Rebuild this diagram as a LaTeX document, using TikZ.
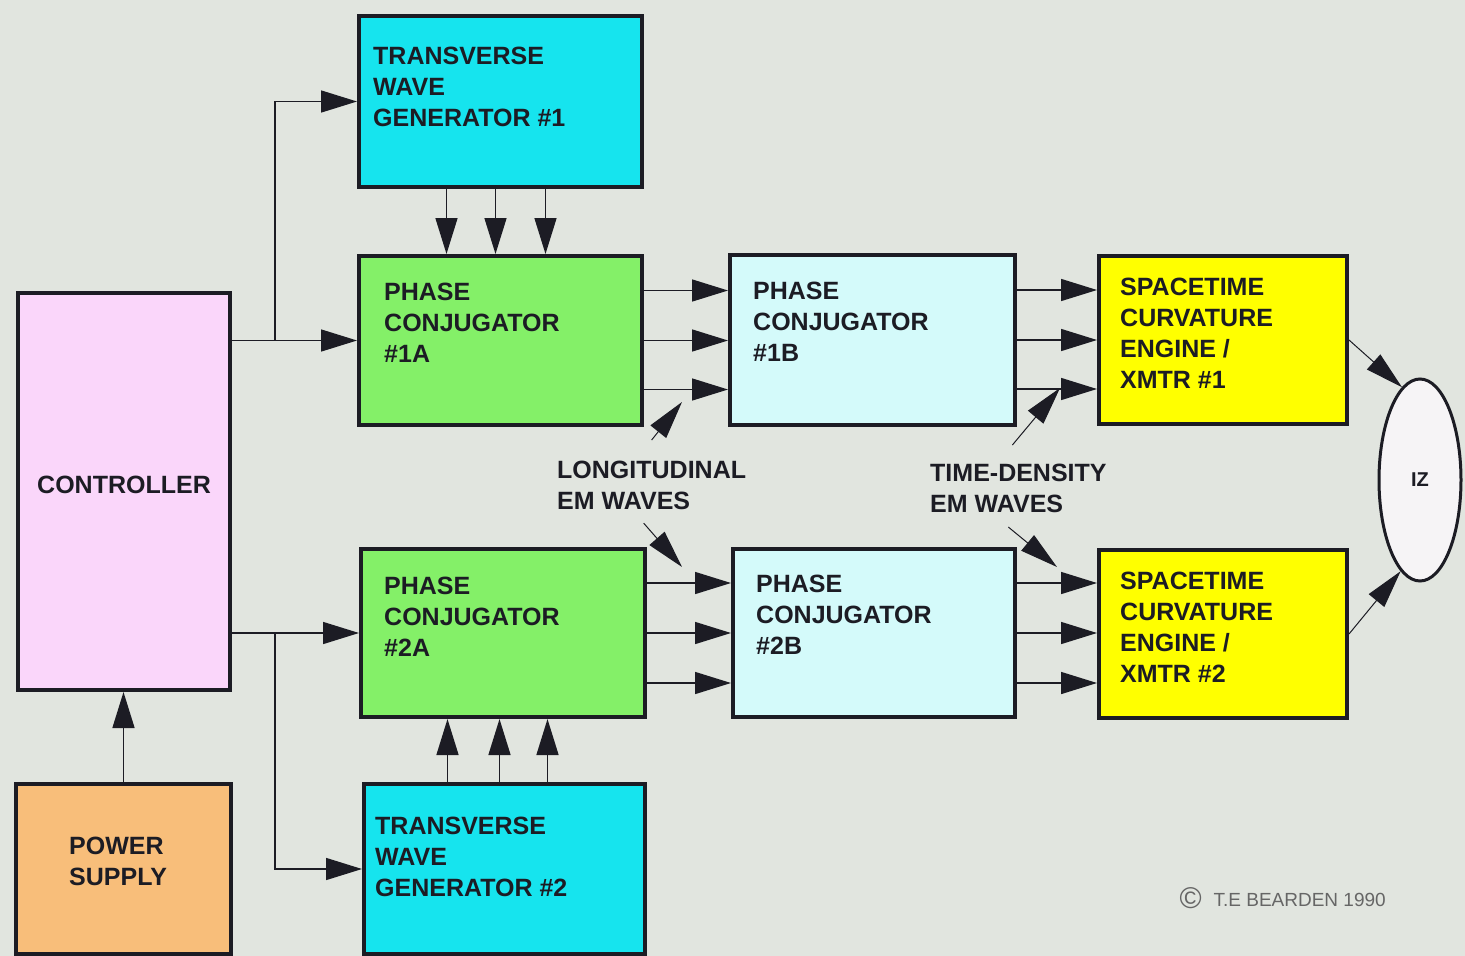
\documentclass[tikz,border=0pt]{standalone}
\usepackage{fontspec}
\setmainfont{Liberation Sans}
\usetikzlibrary{arrows.meta,shapes.geometric}

\definecolor{paper}{RGB}{225,229,223}
\definecolor{inkdark}{RGB}{28,28,36}
\definecolor{genblue}{RGB}{22,228,238}
\definecolor{conjgreen}{RGB}{132,240,104}
\definecolor{conjpale}{RGB}{212,250,250}
\definecolor{engyellow}{RGB}{255,255,0}
\definecolor{ctrlpink}{RGB}{250,214,250}
\definecolor{psorange}{RGB}{248,190,122}
\definecolor{izwhite}{RGB}{246,244,246}

\newcommand{\boxfont}{\fontsize{25}{31}\selectfont\bfseries}

\begin{document}
\begin{tikzpicture}[
    x=1pt, y=-1pt,
    box/.style={rectangle, draw=inkdark, line width=4pt, anchor=north west, text=inkdark, font=\boxfont},
    tag/.style={anchor=north west, align=left, inner sep=0pt, text=inkdark, font=\boxfont},
    arr/.style={-{Triangle[length=36pt,width=22pt]}, line width=1.5pt, draw=inkdark},
    feed/.style={-{Triangle[length=38pt,width=20pt]}, line width=1pt, draw=inkdark}
]
    \clip (0,0) rectangle (1465,956);
    \fill[paper] (0,0) rectangle (1465,956);

    \node[box, fill=ctrlpink, minimum width=212pt, minimum height=397pt] (ctrl) at (16,291) {\raisebox{14pt}{CONTROLLER}};
    \node[box, fill=psorange, minimum width=215pt, minimum height=170pt,
        label={[tag, xshift=55pt, yshift=-55pt]north west:POWER\\SUPPLY}] (power) at (14,782) {};
    \node[box, fill=genblue, minimum width=283pt, minimum height=171pt,
        label={[tag, xshift=16pt, yshift=-33pt]north west:TRANSVERSE\\WAVE\\GENERATOR \#1}] (twg1) at (357,14) {};
    \node[box, fill=conjgreen, minimum width=283pt, minimum height=169pt,
        label={[tag, xshift=27pt, yshift=-29pt]north west:PHASE\\CONJUGATOR\\\#1A}] (pc1a) at (357,254) {};
    \node[box, fill=conjgreen, minimum width=284pt, minimum height=168pt,
        label={[tag, xshift=25pt, yshift=-30pt]north west:PHASE\\CONJUGATOR\\\#2A}] (pc2a) at (359,547) {};
    \node[box, fill=genblue, minimum width=281pt, minimum height=170pt,
        label={[tag, xshift=13pt, yshift=-35pt]north west:TRANSVERSE\\WAVE\\GENERATOR \#2}] (twg2) at (362,782) {};
    \node[box, fill=conjpale, minimum width=285pt, minimum height=170pt,
        label={[tag, xshift=25pt, yshift=-29pt]north west:PHASE\\CONJUGATOR\\\#1B}] (pc1b) at (728,253) {};
    \node[box, fill=conjpale, minimum width=282pt, minimum height=168pt,
        label={[tag, xshift=25pt, yshift=-28pt]north west:PHASE\\CONJUGATOR\\\#2B}] (pc2b) at (731,547) {};
    \node[box, fill=engyellow, minimum width=248pt, minimum height=168pt,
        label={[tag, xshift=23pt, yshift=-24pt]north west:SPACETIME\\CURVATURE\\ENGINE /\\XMTR \#1}] (sce1) at (1097,254) {};
    \node[box, fill=engyellow, minimum width=248pt, minimum height=168pt,
        label={[tag, xshift=23pt, yshift=-24pt]north west:SPACETIME\\CURVATURE\\ENGINE /\\XMTR \#2}] (sce2) at (1097,548) {};
    \node[ellipse, draw=inkdark, line width=3pt, fill=izwhite, minimum width=82pt, minimum height=202pt,
        text=inkdark, font=\fontsize{20}{20}\selectfont\bfseries] (iz) at (1420,480) {IZ};

    \node[tag] (lw) at (557,461) {LONGITUDINAL\\EM WAVES};
    \node[tag] (td) at (930,464) {TIME-DENSITY\\EM WAVES};
    \node[anchor=west, text=black!60, font=\fontsize{19}{19}\selectfont] (copy) at (1176,898)
        {\raisebox{-2pt}{\fontsize{30}{30}\selectfont\textcopyright}\hspace{12pt}T.E BEARDEN 1990};

    \coordinate (lwtip1) at (682,402);
    \coordinate (lwtip2) at (682,567);
    \coordinate (tdtip1) at (1060,388);
    \coordinate (tdtip2) at (1057,567);

    \draw[arr] (ctrl.east |- pc1a.west) -- (pc1a.west);
    \draw[arr] (ctrl.east |- pc1a.west) ++(43,0) |- (twg1.west);
    \draw[arr] (ctrl.east |- pc2a.west) -- (pc2a.west);
    \draw[arr] (ctrl.east |- pc2a.west) ++(43,0) |- (twg2.west);
    \draw[arr] (power.north) -- (power.north |- ctrl.south);

    \foreach \d in {-54,-5,45}
        \draw[arr] ([xshift=\d pt]twg1.south) -- ([xshift=\d pt]twg1.south |- pc1a.north);
    \foreach \d in {-57,-5,43}
        \draw[arr] ([xshift=\d pt]twg2.north) -- ([xshift=\d pt]twg2.north |- pc2a.south);
    \foreach \d in {50,0,-49} {
        \draw[arr] ([yshift=\d pt]pc1a.east) -- ([yshift=\d pt]pc1a.east -| pc1b.west);
        \draw[arr] ([yshift=\d pt]pc1b.east) -- ([yshift=\d pt]pc1b.east -| sce1.west);
    }
    \foreach \d in {50,0,-50} {
        \draw[arr] ([yshift=\d pt]pc2a.east) -- ([yshift=\d pt]pc2a.east -| pc2b.west);
        \draw[arr] ([yshift=\d pt]pc2b.east) -- ([yshift=\d pt]pc2b.east -| sce2.west);
    }

    \draw[feed] ([yshift=21pt]lw.north) -- (lwtip1);
    \draw[feed] ([shift={(-8pt,-13pt)}]lw.south) -- (lwtip2);
    \draw[feed] ([shift={(-6pt,19pt)}]td.north) -- (tdtip1);
    \draw[feed] ([shift={(-10pt,-14pt)}]td.south) -- (tdtip2);
    \draw[feed] (sce1.east) -- (iz.101);
    \draw[feed] (sce2.east) -- (iz.258);
\end{tikzpicture}
\end{document}
